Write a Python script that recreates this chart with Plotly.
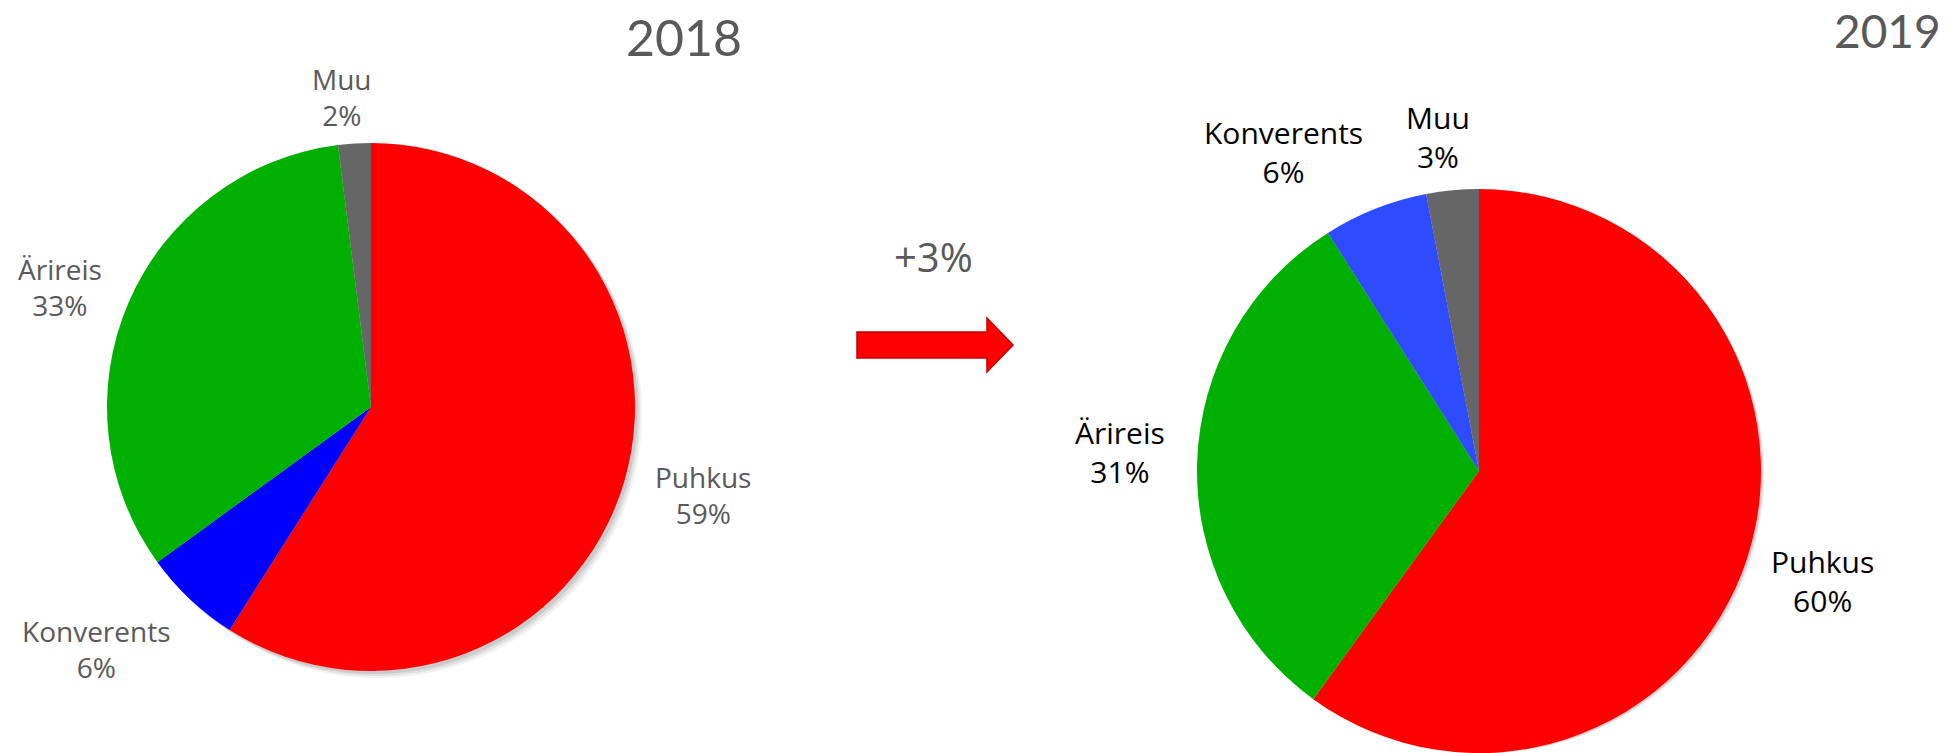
import plotly.graph_objects as go

W, H = 1951, 753

# 2018 data (clockwise from 12 o'clock)
labels_2018 = ["Puhkus", "Konverents", "Ärireis", "Muu"]
values_2018 = [59, 6, 33, 2]
colors_2018 = ["#ff0000", "#0000ff", "#00b000", "#666666"]

# 2019 data (clockwise from 12 o'clock)
labels_2019 = ["Puhkus", "Ärireis", "Konverents", "Muu"]
values_2019 = [60, 31, 6, 3]
colors_2019 = ["#ff0000", "#00b000", "#2e4bff", "#666666"]

change_text = "+3%"
years = ["2018", "2019"]


def dom(cx, cy, r, dx=0, dy=0):
    # pixel circle -> paper domain
    x0 = (cx - r + dx) / W
    x1 = (cx + r + dx) / W
    y0 = (H - (cy + r + dy)) / H
    y1 = (H - (cy - r + dy)) / H
    return dict(x=[max(0, x0), min(1, x1)], y=[max(0, y0), min(1, y1)])


pies = [
    (values_2018, labels_2018, colors_2018, (371, 407, 264)),
    (values_2019, labels_2019, colors_2019, (1479, 471, 282)),
]

fig = go.Figure()

# soft shadow under each pie
for vals, labs, cols, (cx, cy, r) in pies:
    for off, op in [(7, 0.05), (5, 0.07), (3, 0.09)]:
        fig.add_trace(go.Pie(
            values=[1], labels=["s"], domain=dom(cx, cy, r, off, off),
            marker=dict(colors=["#000000"], line=dict(width=0)),
            textinfo="none", hoverinfo="skip", opacity=op, sort=False,
            showlegend=False,
        ))

for vals, labs, cols, (cx, cy, r) in pies:
    fig.add_trace(go.Pie(
        values=vals, labels=labs, domain=dom(cx, cy, r),
        marker=dict(colors=cols, line=dict(width=0)),
        sort=False, direction="clockwise", rotation=0,
        textinfo="none", showlegend=False,
    ))

# label positions in pixels (x, y center)
pos_2018 = {"Puhkus": (703, 495), "Konverents": (96, 649), "Ärireis": (60, 287), "Muu": (342, 97)}
pos_2019 = {"Puhkus": (1822, 581), "Konverents": (1283, 152), "Ärireis": (1120, 452), "Muu": (1438, 137)}

ann = []
for labs, vals, pos, color, size in [
    (labels_2018, values_2018, pos_2018, "#595959", 28),
    (labels_2019, values_2019, pos_2019, "#000000", 30),
]:
    for lab, v in zip(labs, vals):
        px_, py_ = pos[lab]
        ann.append(dict(
            text=f"{lab}<br>{v}%", x=px_ / W, y=1 - py_ / H, xref="paper", yref="paper",
            showarrow=False, xanchor="center", yanchor="middle", align="center",
            font=dict(family="Open Sans", size=size, color=color),
        ))

ann.append(dict(text=years[0], x=684 / W, y=1 - 37 / H, xref="paper", yref="paper",
                showarrow=False, xanchor="center", yanchor="middle",
                font=dict(family="Lato", size=50, color="#595959")))
ann.append(dict(text=years[1], x=1887 / W, y=1 - 31 / H, xref="paper", yref="paper",
                showarrow=False, xanchor="center", yanchor="middle",
                font=dict(family="Lato", size=46, color="#595959")))
ann.append(dict(text=change_text, x=933 / W, y=1 - 257 / H, xref="paper", yref="paper",
                showarrow=False, xanchor="center", yanchor="middle",
                font=dict(family="Open Sans", size=40, color="#595959")))

# block arrow (pixel coords -> paper)
pts = [(857, 332), (987, 332), (987, 318), (1013, 345), (987, 372), (987, 358), (857, 358)]
path = "M " + " L ".join(f"{x / W:.5f},{1 - y / H:.5f}" for x, y in pts) + " Z"
shapes = [dict(type="path", path=path, xref="paper", yref="paper",
               fillcolor="#ff0000", line=dict(color="#c00000", width=1.5))]

fig.update_layout(
    width=W, height=H,
    margin=dict(l=0, r=0, t=0, b=0),
    paper_bgcolor="white", plot_bgcolor="white",
    annotations=ann, shapes=shapes,
)

fig.write_html("out.html", config={"displayModeBar": False},
               post_script="document.body.style.margin='0';document.body.style.overflow='hidden';")
